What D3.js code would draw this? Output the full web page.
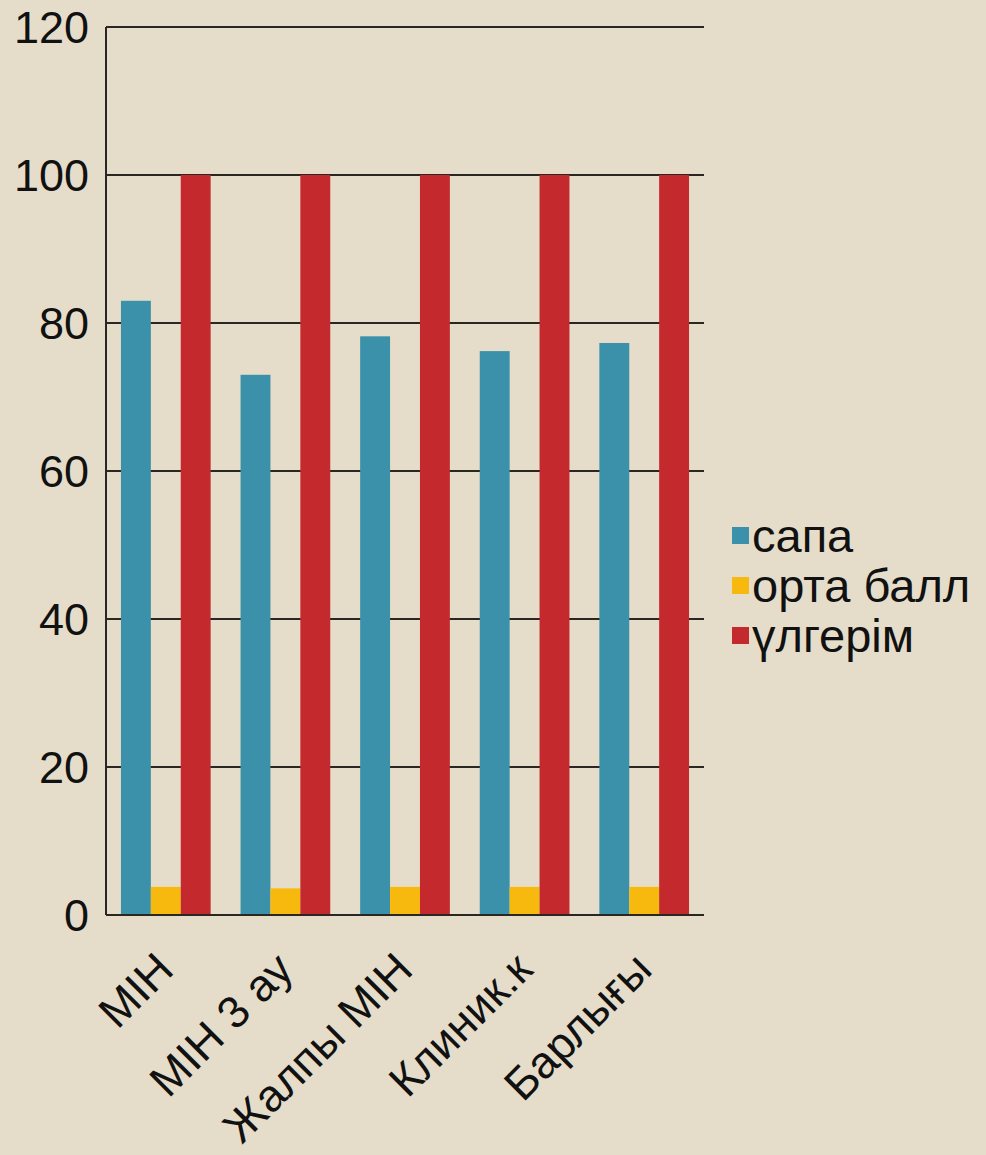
<!DOCTYPE html>
<html>
<head>
<meta charset="utf-8">
<script src="https://cdn.jsdelivr.net/npm/d3@7"></script>
<style>
  html, body { margin: 0; padding: 0; background: #e5ddc9; }
  svg { display: block; }
</style>
</head>
<body>
<div id="chart"></div>
<script>
const categories = ['МІН', 'МІН 3 ау', 'Жалпы МІН', 'Клиник.к', 'Барлығы']
const seriesNames = ['сапа', 'орта балл', 'үлгерім']
const sapaValues = [83, 73, 78.2, 76.2, 77.3]
const ortaBallValues = [3.8, 3.6, 3.8, 3.8, 3.8]
const ulgerimValues = [100, 100, 100, 100, 100]
const yTicks = [0, 20, 40, 60, 80, 100, 120]
const seriesColors = ['#3a91a9', '#f8b90f', '#c4292d']

const width = 986
const height = 1155
const margin = { top: 27, right: 282, bottom: 240, left: 106 }
const font = '"Liberation Sans", Arial, sans-serif'

const svg = d3.select('#chart')
  .append('svg')
  .attr('width', width)
  .attr('height', height)

svg.append('rect').attr('width', width).attr('height', height).attr('fill', '#e5ddc9')

const x0 = d3.scaleBand()
  .domain(categories)
  .range([margin.left, width - margin.right])
  .paddingInner(0.25)
  .paddingOuter(0.125)

const x1 = d3.scaleBand()
  .domain(seriesNames)
  .range([0, x0.bandwidth()])

const y = d3.scaleLinear()
  .domain([0, 120])
  .range([height - margin.bottom, margin.top])

const rows = categories.map((c, i) => ({
  cat: c,
  values: [sapaValues[i], ortaBallValues[i], ulgerimValues[i]]
}))

// gridlines
svg.append('g')
  .selectAll('line')
  .data(yTicks.filter((t) => t > 0))
  .join('line')
  .attr('x1', margin.left)
  .attr('x2', width - margin.right)
  .attr('y1', (d) => y(d))
  .attr('y2', (d) => y(d))
  .attr('stroke', '#2a2723')
  .attr('stroke-width', 2)

// bars
svg.append('g')
  .selectAll('g')
  .data(rows)
  .join('g')
  .attr('transform', (d) => `translate(${x0(d.cat)},0)`)
  .selectAll('rect')
  .data((d) => d.values.map((v, j) => ({ v, s: seriesNames[j], j })))
  .join('rect')
  .attr('x', (d) => x1(d.s))
  .attr('width', x1.bandwidth())
  .attr('y', (d) => y(d.v))
  .attr('height', (d) => y(0) - y(d.v))
  .attr('fill', (d) => seriesColors[d.j])

// axis lines
svg.append('line')
  .attr('x1', margin.left).attr('x2', margin.left)
  .attr('y1', y(120)).attr('y2', y(0))
  .attr('stroke', '#2a2723').attr('stroke-width', 2)
svg.append('line')
  .attr('x1', margin.left).attr('x2', width - margin.right)
  .attr('y1', y(0)).attr('y2', y(0))
  .attr('stroke', '#2a2723').attr('stroke-width', 2)

// y tick labels
svg.append('g')
  .selectAll('text')
  .data(yTicks)
  .join('text')
  .attr('x', 89)
  .attr('y', (d) => y(d))
  .attr('dy', '0.36em')
  .attr('text-anchor', 'end')
  .attr('font-family', font)
  .attr('font-size', 45)
  .attr('fill', '#111')
  .text((d) => d)

// x labels, rotated
svg.append('g')
  .selectAll('text')
  .data(categories)
  .join('text')
  .attr('transform', (d) => `translate(${x0(d) + x0.bandwidth() / 2 + 10},${y(0) + 57}) rotate(-45)`)
  .attr('text-anchor', 'end')
  .attr('font-family', font)
  .attr('font-size', 45)
  .attr('fill', '#111')
  .text((d) => d)

// legend
const legend = svg.append('g')
  .selectAll('g')
  .data(seriesNames)
  .join('g')
  .attr('transform', (d, i) => `translate(732,${552 + i * 50})`)

legend.append('rect')
  .attr('x', 0)
  .attr('y', -25)
  .attr('width', 17)
  .attr('height', 17)
  .attr('fill', (d, i) => seriesColors[i])

legend.append('text')
  .attr('x', 20)
  .attr('y', 0)
  .attr('font-family', font)
  .attr('font-size', 47)
  .attr('fill', '#111')
  .text((d) => d)
</script>
</body>
</html>
